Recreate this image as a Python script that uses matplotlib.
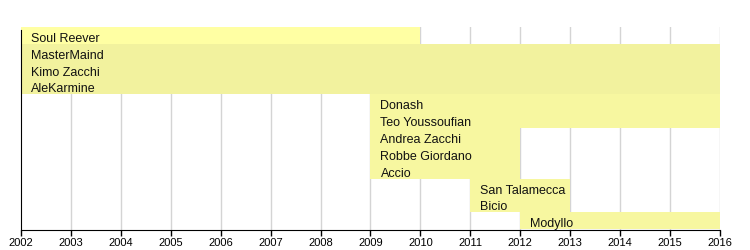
import matplotlib
matplotlib.use("Agg")
import matplotlib.pyplot as plt

names = ["Soul Reever", "MasterMaind", "Kimo Zacchi", "AleKarmine", "Donash",
         "Teo Youssoufian", "Andrea Zacchi", "Robbe Giordano", "Accio",
         "San Talamecca", "Bicio", "Modyllo"]
starts = [2002, 2002, 2002, 2002, 2009, 2009, 2009, 2009, 2009, 2011, 2011, 2012]
ends = [2010, 2016, 2016, 2016, 2016, 2016, 2012, 2012, 2012, 2013, 2013, 2016]
years = list(range(2002, 2017))

colors = ["#ffffa3"] + ["#f2f29e"] * 3 + ["#f7f7a0"] * 8

plt.rcParams['font.family'] = ['Liberation Sans', 'DejaVu Sans']
fig = plt.figure(figsize=(7.5, 2.5), dpi=100)
ax = fig.add_axes([21/750, 1-230/250, (720-21)/750, (230-27)/250])

for y in years[1:]:
    ax.axvline(y, color="#d4d4d4", lw=1, zorder=0)

for i, (n, s, e, c) in enumerate(zip(names, starts, ends, colors)):
    ax.barh(i + 0.5, e - s, left=s, height=1.0, color=c, lw=0, zorder=1)
    ax.text(s + 0.2, i + 0.62, n, va="center_baseline", ha="left", fontsize=9,
            color="#111111", zorder=3)

ax.set_xlim(2002, 2016)
ax.set_ylim(12.05, 0)
ax.set_xticks(years)
ax.set_xticklabels([str(y) for y in years], fontsize=8)
ax.set_yticks([])
for sp in ["top", "right"]:
    ax.spines[sp].set_visible(False)
ax.spines["left"].set_bounds(12.05, 0.2)
ax.spines["left"].set_zorder(4)
ax.spines["bottom"].set_zorder(4)
ax.tick_params(axis="x", direction="out", length=4, width=1, pad=1.5, color="black")
ax.set_facecolor("white")
fig.savefig("out.png", dpi=100)
